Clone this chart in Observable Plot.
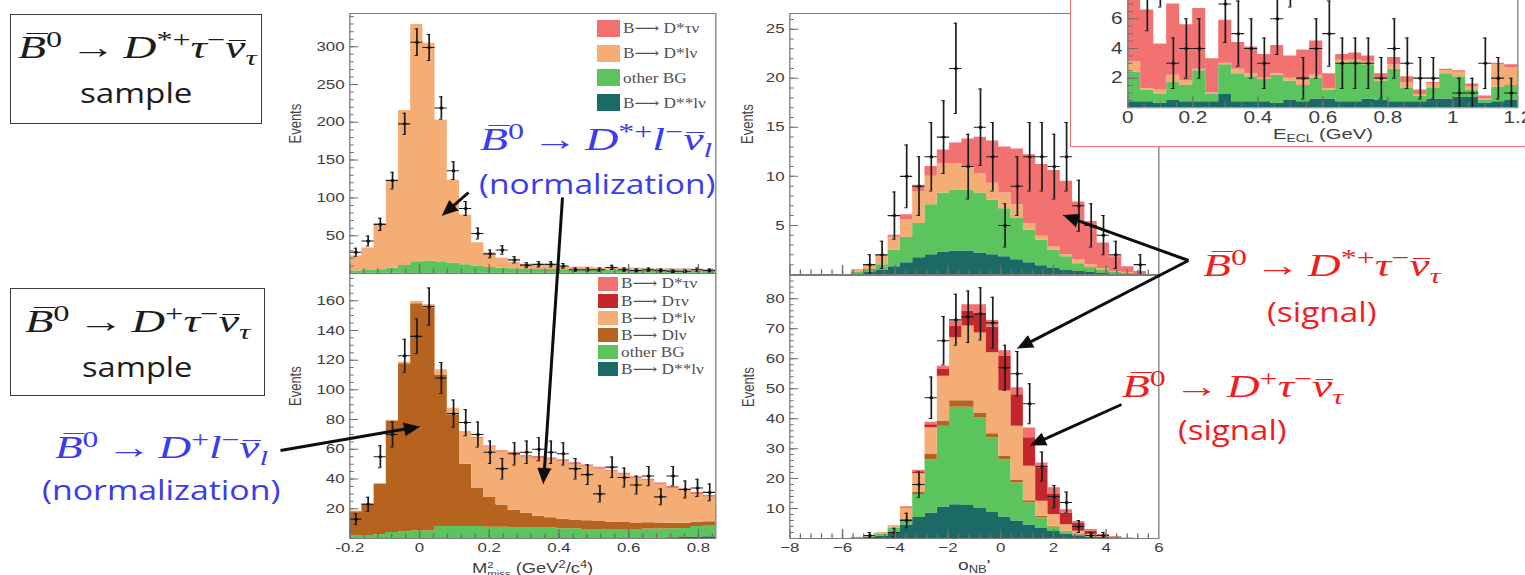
<!DOCTYPE html>
<html>
<head>
<meta charset="utf-8">
<title>B → D(*) τ ν : fit projections</title>
<script src="https://cdn.jsdelivr.net/npm/d3@7"></script>
<script src="https://cdn.jsdelivr.net/npm/@observablehq/plot@0.6"></script>
<style>
  html, body { margin: 0; padding: 0; background: #fff; }
  #stage { position: relative; width: 1525px; height: 575px; overflow: hidden; background: #fff; }
  .note { position: absolute; white-space: nowrap; line-height: 1; transform-origin: 0 0; }
  .math { font-family: "Liberation Serif", "DejaVu Serif", serif; font-style: italic; }
  .sans { font-family: "Open Sans", "Lato", sans-serif; }
  .root { font-family: "Liberation Sans", Arial, sans-serif; }
  .serif { font-family: "Liberation Serif", "DejaVu Serif", serif; }
  .up { font-style: normal; }
  .obB, .obN { position: relative; display: inline-block; }
  .obB::before, .obN::before { content: ""; position: absolute; border-top: 0.055em solid currentColor; }
  .obB::before { left: 0.2em; right: -0.04em; top: 0.07em; }
  .obN::before { left: 0.08em; right: -0.02em; top: 0.27em; }
  .sup { position: relative; top: -0.48em; font-size: 0.7em; }
  .sub { position: relative; top: 0.3em; font-size: 0.68em; }
  .ss { display: inline-block; font-size: 0.62em; line-height: 1; vertical-align: -0.45em; }
  .ss span { display: block; }
  .bl { display: inline-block; width: 0; height: 0; vertical-align: baseline; }
  .box { position: absolute; border: 1.5px solid #3c3c3c; box-sizing: border-box; }
  .sw { position: absolute; }
  .layer { position: absolute; transform-origin: 0 0; }
</style>
</head>
<body>
<div id="stage"></div>
<script>
// ================= DATA =================
// binning (30 bins each)
const mBinLo = -0.2, mBinW = 0.035;     // M²miss  : -0.2 … 0.85
const oBinLo = -8,   oBinW = 14 / 30;   // o_NB'   : -8 … 6
const eBinLo = 0,    eBinW = 0.04;      // E_ECL   : 0 … 1.2

// component colours
const colDstTau = "#f27171", colDtau = "#c3272c", colDstLnu = "#f4ad74",
      colDlnu = "#b5631f",   colOther = "#5cc45c", colDss = "#1c6a66";

// legends
const legendTopLabels = ["B⟶ D*τν", "B⟶ D*lν", "other BG", "B⟶ D**lν"];
const legendTopColors = [colDstTau, colDstLnu, colOther, colDss];
const legendBotLabels = ["B⟶ D*τν", "B⟶ Dτν", "B⟶ D*lν", "B⟶ Dlν", "other BG", "B⟶ D**lν"];
const legendBotColors = [colDstTau, colDtau, colDstLnu, colDlnu, colOther, colDss];

// ---- top-left: M²miss, D*τν sample ----
const tlDss    = [0.2,0.3,0.3,0.4,0.5,0.6,0.6,0.6,0.5,0.5, 0.4,0.4,0.4,0.3,0.3,0.3,0.3,0.3,0.3,0.3, 0.3,0.3,0.3,0.3,0.3,0.3,0.3,0.3,0.3,0.3];
const tlOther  = [3,3.5,4.5,6.5,10,15,16,15,13,11, 9,7.5,6.5,6,5.5,5,5,4.5,4.5,4.5, 4.5,4,4,4,3.5,3.5,3.5,3,3,3];
const tlDstLnu = [20,30,61,117,205,314,288,187,110,66, 31,19,13,8,6,5,5,4,3,3, 2,2,2,2,2,2,1.5,2,2,1.5];
const tlDstTau = [0,0,0,0,0,0,0,0,0,0, 0.2,0.3,0.4,0.5,0.5,0.6,0.6,0.6,0.6,0.6, 0.5,0.5,0.5,0.5,0.5,0.5,0.5,0.5,0.4,0.4];
const tlData   = [28,43,65,123,198,306,299,219,136,86, 53,26,31,18,11,12,12,10,5,5, 5,8,5,4,5,4,3,3,5,4];
const tlErr    = [5.3,6.6,8.1,11.1,14.1,17.5,17.3,14.8,11.7,9.3, 7.3,5.1,5.6,4.2,3.3,3.5,3.5,3.2,2.2,2.2, 2.2,2.8,2.2,2,2.2,2,1.7,1.7,2.2,2];

// ---- bottom-left: M²miss, Dτν sample ----
const blDss    = [0,0,0,0,0,0,0,0,0,0, 0,0,0,0,0,0,0,0,0,0, 0,0,0,0,0.3,0.4,0.5,0.7,1,1.2];
const blOther  = [2,2,2.5,4,4.5,5,5,8,8,8, 8,7.5,7.5,7,7,7,7,6.5,6.5,6, 6,6,6,6,6,6,6,6,7,7.5];
const blDlnu   = [16,21,34,75,113,153,150,102,75,42, 26,20,15,12,10,8,7,6.5,6,6, 5.5,5,4.8,4.5,4.3,4,3.8,3.6,3,2.5];
const blDstLnu = [0.5,0.5,0.5,0.5,1,1.5,2.5,3.5,4.7,21.4, 33.5,34,35.8,38.1,38,39.2,39.3,39,37.5,36.5, 35.5,34,32.2,30.1,28.4,26.1,23.7,22.2,19,16.8];
const blDtau   = [0,0,0,0,0,0,0,0,0,0.2, 0.3,0.3,0.3,0.3,0.3,0.3,0.3,0.3,0.3,0.3, 0.3,0.3,0.3,0.3,0.3,0.3,0.3,0.3,0.3,0.3];
const blDstTau = [0,0,0,0,0,0,0,0,0,0.2, 0.4,0.5,0.5,0.6,0.6,0.6,0.6,0.6,0.6,0.6, 0.6,0.6,0.6,0.6,0.6,0.6,0.6,0.6,0.6,0.6];
const blData   = [13,23,55,70,123,136,156,108,84,78, 70,58,47,57,58,60,58,57,47,43, 30,48,41,36,42,28,42,33,34,31];
const blErr    = [3.6,4.8,7.4,8.4,11.1,11.7,12.5,10.4,9.2,8.8, 8.4,7.6,6.9,7.5,7.6,7.7,7.6,7.5,6.9,6.6, 5.5,6.9,6.4,6,6.5,5.3,6.5,5.7,5.8,5.6];

// ---- top-right: o_NB', D*τν sample ----
const trDss    = [0,0,0,0,0,0,0.2,0.4,0.8,1.2, 1.7,2.0,2.3,2.4,2.4,2.2,2.0,1.8,1.5,1.2, 0.9,0.6,0.4,0.3,0.2,0.1,0,0,0,0];
const trOther  = [0,0,0,0,0,0.2,0.3,0.6,1.7,2.6, 3.5,5.1,6.0,6.2,6.2,6.1,5.6,4.9,4.2,3.3, 2.6,1.9,1.4,0.8,0.5,0.3,0.2,0.1,0,0];
const trDstLnu = [0,0,0,0,0,0.3,0.5,1.0,1.3,1.8, 3.2,2.9,3.0,2.7,2.4,2.0,1.7,1.6,1.4,0.7, 0.4,0.3,0.2,0.4,0.3,0.2,0.1,0.1,0,0];
const trDstTau = [0,0,0,0,0,0,0,0,0.2,0.5, 0.7,1.0,1.4,2.1,2.8,3.7,4.3,4.7,5.7,7.0, 7.3,7.8,7.5,5.9,4.4,2.6,1.5,0.6,0.3,0];
const trData   = [null,null,null,null,null,null,1,2,6,10, 9,12,14,21,11,15,12,5,9,12, 12,11,12,7,5,4,2,null,1,null];
const trErr    = [null,null,null,null,null,null,1,1.4,2.4,3.2, 3,3.5,3.7,4.6,3.3,3.9,3.5,2.2,3,3.5, 3.5,3.3,3.5,2.6,2.2,2,1.4,null,1,null];

// ---- bottom-right: o_NB', Dτν sample ----
const brDss    = [0,0,0,0,0,0.2,0.4,0.8,1.8,4.5, 7,8.5,10.5,11.3,11,10,8.7,7.2,5.8,4.5, 3.3,2.3,1.5,0.9,0.5,0.3,0.1,0,0,0];
const brOther  = [0,0,0,0,0,0.1,0.2,0.7,1.7,1.5, 7.7,17.8,27,32.5,32.8,30.3,24.9,19.1,12.7,7.4, 3.6,1.5,0.7,0.3,0.1,0.1,0,0,0,0];
const brDlnu   = [0,0,0,0,0,0,0,0,0,0.3, 0.8,1.7,1.7,2.2,2.2,1.6,1.4,1.2,1.0,0.7, 0.5,0.3,0.2,0.1,0,0,0,0,0,0];
const brDstLnu = [0,0,0,0,0,0.1,0.1,0.5,0.5,3.9, 6.1,9,15,21,24.9,26.7,27,21.7,18,11.5, 5,3.9,2.2,1.1,0.7,0.2,0.1,0,0,0];
const brDtau   = [0,0,0,0,0,0,0,0,0.1,0.2, 0.7,1.0,2.2,3.9,5.0,6.2,8.5,11.7,10.5,9.5, 11.1,6.7,3.9,2.6,1.1,0.4,0.2,0,0,0];
const brDstTau = [0,0,0,0,0,0,0,0,0.1,0.2, 0.5,0.8,1.1,1.6,2.1,3.2,2.3,1.8,2.3,3.3, 1.7,2.2,1.1,0.7,0.6,0.3,0.3,0.2,0,0];
const brData   = [null,null,null,null,null,null,1,null,2,6, 18,47,66,73,74,75,72,57,55,45, 24,14,12,4,1,1,null,null,null,null];
const brErr    = [null,null,null,null,null,null,1,null,1.4,2.4, 4.2,6.9,8.1,8.5,8.6,8.7,8.5,7.5,7.4,6.7, 4.9,3.7,3.5,2,1,1,null,null,null,null];

// ---- inset: E_ECL ----
const ecDss    = [0.4,0.4,0.3,0.5,0.4,0.4,0.4,0.9,0.4,0.4, 0.4,0.3,0.5,0.4,0.6,0.6,0.4,0.4,0.6,0.5, 0.4,0.4,0.4,0.6,0.6,0.7,0.7,0.3,0.4,0.5];
const ecOther  = [2.0,0.8,0.6,1.2,1.1,2.1,0.5,2.0,1.9,1.7, 1.5,1.9,1.3,1.1,1.4,0.6,2.6,2.7,2.3,1.3, 2.2,0.9,0.4,0.7,1.7,1.4,0.5,0.2,1.0,1.0];
const ecDstLnu = [0.7,0.1,0.3,0.5,0.3,0.1,0.1,0.1,0.3,0.2, 0.1,0.1,0.2,0.3,0.2,0.1,0.2,0.1,0.2,0.2, 0.3,0.4,0.1,0.3,0.2,0.3,0.2,0.1,1.5,1.2];
const ecDstTau = [5.4,5.3,3.1,4.8,3.8,4.1,2.3,2.9,1.8,1.8, 1.6,1.9,1.5,2.1,2.3,1.0,0.4,0.5,0.4,0.3, 0.5,0.4,0.3,0.1,0.1,0.1,0.2,0.2,0.1,0.2];
const ecData   = [12,8,10,3,4,4,null,7,5,4, 3,6,10,2,4,5,3,3,3,2, 4,3,2,2,null,1,1,3,2,1];
const ecErr    = [3.5,2.8,3.2,1.7,2,2,null,2.6,2.2,2, 1.7,2.4,3.2,1.4,2,2.2,1.7,1.7,1.7,1.4, 2,1.7,1.4,1.4,null,1,1,1.7,1.4,1];

// axis ticks and labels
const tlYTicks = [50,100,150,200,250,300];
const blYTicks = [20,40,60,80,100,120,140,160];
const trYTicks = [5,10,15,20,25];
const brYTicks = [10,20,30,40,50,60,70,80];
const ecYTicks = [2,4,6];
const mXTicks  = [-0.2,0,0.2,0.4,0.6,0.8];  const mXLabels = ["-0.2","0","0.2","0.4","0.6","0.8"];
const oXTicks  = [-8,-6,-4,-2,0,2,4,6];      const oXLabels = ["\u22128","\u22126","\u22124","\u22122","0","2","4","6"];
const eXTicks  = [0,0.2,0.4,0.6,0.8,1,1.2];  const eXLabels = ["0","0.2","0.4","0.6","0.8","1","1.2"];

// ================= DRAWING =================
const S = 1.3;   // the slide stretched the ROOT figures horizontally
const stage = document.getElementById("stage");

function histPanel(o) {
  const n = o.comps[0].values.length;
  const mL = 64, mR = 4, mT = 4, mB = 36;
  const [L, T, R, Bt] = o.box;
  const fw = (R - L) / S, fh = Bt - T;
  const W = mL + fw + mR, H = mT + fh + mB;
  const edge = i => o.binLo + o.binW * i;
  const marks = [];
  let base = new Array(n).fill(0);
  for (const c of o.comps) {
    const lo = base;
    const hi = base.map((b, j) => b + c.values[j]);
    const rows = d3.range(n + 1).map(i => {
      const j = Math.min(i, n - 1);
      return {x: edge(i), y1: lo[j], y2: hi[j]};
    });
    marks.push(Plot.areaY(rows, {x: "x", y1: "y1", y2: "y2", curve: "step-after", fill: c.color, clip: true}));
    base = hi;
  }
  const pts = [];
  o.data.forEach((v, i) => { if (v != null) pts.push({c: edge(i) + o.binW / 2, v, e: o.err[i]}); });
  const ink = {stroke: "#1c1c1c", clip: true};
  const cap = o.binW * 0.14;
  marks.push(
    Plot.ruleX(pts, {x: "c", y1: d => Math.max(0, d.v - d.e), y2: d => d.v + d.e, strokeWidth: 1.3, ...ink}),
    Plot.ruleY(pts, {y: "v", x1: d => d.c - o.binW / 2, x2: d => d.c + o.binW / 2, strokeWidth: 1.1, ...ink}),
    Plot.ruleY(pts, {y: d => d.v + d.e, x1: d => d.c - cap, x2: d => d.c + cap, strokeWidth: 1, ...ink}),
    Plot.ruleY(pts.filter(d => d.v - d.e > 0.05), {y: d => d.v - d.e, x1: d => d.c - cap, x2: d => d.c + cap, strokeWidth: 1, ...ink}),
    Plot.dot(pts, {x: "c", y: "v", r: 1.5, fill: "#111", clip: true})
  );
  const tk = {stroke: "#6e6e6e", strokeWidth: 1, clip: true};
  marks.push(
    Plot.tickY(o.yMajor.concat(o.yExtraMajor || []), {y: d => d, insetRight: fw - o.tick / S, ...tk}),
    Plot.tickY(o.yMinor, {y: d => d, insetRight: fw - o.tick / 2 / S, ...tk}),
    Plot.tickX(o.xMajor, {x: d => d, insetTop: fh - o.tick, ...tk}),
    Plot.tickX(o.xMinor, {x: d => d, insetTop: fh - o.tick / 2, ...tk}),
    Plot.frame({stroke: "#7c7c7c", strokeWidth: 1})
  );
  if (o.yTitle) marks.push(Plot.text([o.yTitle], {text: d => d, frameAnchor: "left", rotate: -90, dx: -o.yTitleDx, fontSize: 13, fill: "#454545"}));
  const svg = Plot.plot({
    width: W, height: H, marginLeft: mL, marginRight: mR, marginTop: mT, marginBottom: mB,
    x: o.xLabels
      ? {domain: o.xDomain, ticks: o.xMajor, tickFormat: d => o.xLabels[o.xMajor.indexOf(d)], tickSize: 0, tickPadding: 4, label: null}
      : {domain: o.xDomain, axis: null},
    y: {domain: o.yDomain, ticks: o.yMajor, tickSize: 0, tickPadding: 4, label: null},
    style: {background: "transparent", overflow: "visible", fontFamily: '"Liberation Sans", Arial, sans-serif', fontSize: o.fs + "px", color: "#3d3d3d"},
    marks
  });
  const div = document.createElement("div");
  div.className = "layer";
  div.style.left = (L - mL * S) + "px";
  div.style.top = (T - mT) + "px";
  div.style.width = W + "px";
  div.style.height = H + "px";
  div.style.transform = `scaleX(${S})`;
  div.appendChild(svg);
  stage.appendChild(div);
}

const comps = (arrs, cols) => arrs.map((values, k) => ({values, color: cols[k]}));

// top-left
histPanel({box: [349, 13, 715, 273], xDomain: [-0.2, 0.85], yDomain: [0, 344], binLo: mBinLo, binW: mBinW,
  comps: comps([tlDss, tlOther, tlDstLnu, tlDstTau], [colDss, colOther, colDstLnu, colDstTau]),
  data: tlData, err: tlErr, yMajor: tlYTicks, yMinor: d3.range(10, 344, 10),
  xMajor: mXTicks, xMinor: d3.range(27).map(i => -0.2 + 0.04 * i), tick: 9, fs: 13, yTitle: "Events", yTitleDx: 41.5});
// bottom-left
histPanel({box: [349, 273, 715, 538], xDomain: [-0.2, 0.85], yDomain: [0, 178.3], binLo: mBinLo, binW: mBinW,
  comps: comps([blDss, blOther, blDlnu, blDstLnu, blDtau, blDstTau], [colDss, colOther, colDlnu, colDstLnu, colDtau, colDstTau]),
  data: blData, err: blErr, yMajor: blYTicks, yMinor: d3.range(5, 178, 5),
  xMajor: mXTicks, xMinor: d3.range(27).map(i => -0.2 + 0.04 * i), xLabels: mXLabels, tick: 9, fs: 13, yTitle: "Events", yTitleDx: 41.5});
// top-right
histPanel({box: [789, 13, 1158, 274], xDomain: [-8, 6], yDomain: [0, 26.6], binLo: oBinLo, binW: oBinW,
  comps: comps([trDss, trOther, trDstLnu, trDstTau], [colDss, colOther, colDstLnu, colDstTau]),
  data: trData, err: trErr, yMajor: trYTicks, yMinor: d3.range(1, 27, 1),
  xMajor: oXTicks, xMinor: d3.range(36).map(i => -8 + 0.4 * i), tick: 9, fs: 13, yTitle: "Events", yTitleDx: 32.5});
// bottom-right
histPanel({box: [789, 275, 1158, 538], xDomain: [-8, 6], yDomain: [0, 87.8], binLo: oBinLo, binW: oBinW,
  comps: comps([brDss, brOther, brDlnu, brDstLnu, brDtau, brDstTau], [colDss, colOther, colDlnu, colDstLnu, colDtau, colDstTau]),
  data: brData, err: brErr, yMajor: brYTicks, yMinor: d3.range(2, 88, 2),
  xMajor: oXTicks, xMinor: d3.range(36).map(i => -8 + 0.4 * i), xLabels: oXLabels, tick: 9, fs: 13, yTitle: "Events", yTitleDx: 31.5});

// inset (E_ECL) with its red frame
const insetBox = document.createElement("div");
insetBox.style.cssText = "position:absolute;left:1070px;top:-6px;width:480px;height:153px;border:1.5px solid #f46c6c;background:#fff;box-sizing:border-box;";
stage.appendChild(insetBox);
histPanel({box: [1127, -40.9, 1517, 107.4], xDomain: [0, 1.2], yDomain: [0, 10], binLo: eBinLo, binW: eBinW,
  comps: comps([ecDss, ecOther, ecDstLnu, ecDstTau], [colDss, colOther, colDstLnu, colDstTau]),
  data: ecData, err: ecErr, yMajor: ecYTicks, yExtraMajor: [8], yMinor: d3.range(0.5, 10, 0.5),
  xMajor: eXTicks, xMinor: d3.range(25).map(i => 0.05 * i), xLabels: eXLabels, tick: 11, fs: 16, yTitle: null});

// ---------- legends ----------
function legend(labels, colors, o) {
  labels.forEach((lab, k) => {
    const cy = o.y0 + o.dy * k;
    const sw = document.createElement("div");
    sw.className = "sw";
    sw.style.cssText = `left:${o.x}px;top:${cy - o.sh / 2}px;width:${o.sw}px;height:${o.sh}px;background:${colors[k]};`;
    stage.appendChild(sw);
    notes.push({html: lab, cls: "serif", size: o.size, color: "#505050", x0: o.x + o.sw + 3, sx: 1.15, base: cy + 0.33 * o.size});
  });
}

// ---------- text annotations ----------
const SP = '\u2006';
const B0 = '<span class="obB">B</span><span class="sup up">0</span><span class="up">' + SP + '→' + SP + '</span>';
const NUB = '<span class="obN">ν</span>';
const fDstTau = B0 + 'D<span class="sup up">*+</span>τ<span class="sup up">−</span>' + NUB + '<span class="sub">τ</span>';
const fDTau   = B0 + 'D<span class="sup up">+</span>τ<span class="sup up">−</span>' + NUB + '<span class="sub">τ</span>';
const fDstL   = B0 + 'D<span class="sup up">*+</span>l<span class="sup up">−</span>' + NUB + '<span class="sub">l</span>';
const fDL     = B0 + 'D<span class="sup up">+</span>l<span class="sup up">−</span>' + NUB + '<span class="sub">l</span>';
const BLUE = "#3b3bf0", RED = "#f21e1e", BLACK = "#1c1c1c";

const notes = [
  {html: fDstTau, cls: "math", size: 32, color: BLACK, x0: 18, x1: 256, base: 58},
  {html: "sample", cls: "sans", size: 27, color: BLACK, x0: 80, x1: 192, base: 103},
  {html: fDTau, cls: "math", size: 32, color: BLACK, x0: 25, x1: 250, base: 332},
  {html: "sample", cls: "sans", size: 27, color: BLACK, x0: 82, x1: 192, base: 377},
  {html: fDstL, cls: "math", size: 32, color: BLUE, x0: 480, x1: 712, base: 150},
  {html: "(normalization)", cls: "sans", size: 27, color: BLUE, x0: 479, x1: 715, base: 194},
  {html: fDL, cls: "math", size: 32, color: BLUE, x0: 55, x1: 268, base: 458},
  {html: "(normalization)", cls: "sans", size: 27, color: BLUE, x0: 42, x1: 280, base: 500},
  {html: fDstTau, cls: "math", size: 32, color: RED, x0: 1203, x1: 1440, base: 276},
  {html: "(signal)", cls: "sans", size: 27, color: RED, x0: 1267, x1: 1377, base: 322},
  {html: fDTau, cls: "math", size: 32, color: RED, x0: 1122, x1: 1343, base: 397},
  {html: "(signal)", cls: "sans", size: 27, color: RED, x0: 1178, x1: 1287, base: 440},
  // axis titles of the ROOT figures (cut by the slide's bottom edge, as in the source)
  {html: 'M<span class="ss"><span>2</span><span>miss</span></span> (GeV<span class="sup">2</span>/c<span class="sup">4</span>)', cls: "root", size: 15, color: "#404040", x0: 472, x1: 593, base: 573},
  {html: 'o<span class="sub">NB</span>\'', cls: "root", size: 15, color: "#404040", x0: 958, x1: 990, base: 570},
  {html: 'E<span class="sub">ECL</span> (GeV)', cls: "root", size: 15, color: "#404040", x0: 1273, x1: 1373, base: 139}
];

legend(legendTopLabels, legendTopColors, {x: 597, y0: 28.3, dy: 24.8, sw: 23, sh: 17, size: 15});
legend(legendBotLabels, legendBotColors, {x: 598, y0: 283.5, dy: 17.1, sw: 20, sh: 14, size: 15});

// boxes around the sample labels
[[10, 14, 262, 124], [10, 288, 265, 396]].forEach(([x0, y0, x1, y1]) => {
  const b = document.createElement("div");
  b.className = "box";
  b.style.cssText += `left:${x0}px;top:${y0}px;width:${x1 - x0}px;height:${y1 - y0}px;`;
  stage.appendChild(b);
});

const noteEls = notes.map(n => {
  const d = document.createElement("div");
  d.className = "note " + n.cls;
  d.style.fontSize = n.size + "px";
  d.style.color = n.color;
  d.innerHTML = n.html + '<span class="bl"></span>';
  stage.appendChild(d);
  return d;
});
function layoutNotes() {
  notes.forEach((n, k) => {
    const d = noteEls[k];
    d.style.transform = "none";
    const w = d.offsetWidth;
    const bl = d.querySelector(".bl").offsetTop;
    const sx = n.x1 != null ? (n.x1 - n.x0) / w : (n.sx || 1);
    d.style.left = n.x0 + "px";
    d.style.top = (n.base - bl) + "px";
    d.style.transform = `scaleX(${sx})`;
  });
}
layoutNotes();
if (document.fonts && document.fonts.ready) document.fonts.ready.then(layoutNotes);

// ---------- arrows (page pixel coordinates) ----------
const arrows = [
  {x1: 468, y1: 192, x2: 442, y2: 215},
  {x1: 562, y1: 197, x2: 543, y2: 483},
  {x1: 280, y1: 450, x2: 419, y2: 426},
  {x1: 1188, y1: 260, x2: 1063, y2: 215},
  {x1: 1188, y1: 260, x2: 1017, y2: 348},
  {x1: 1121, y1: 404, x2: 1030, y2: 445}
];
const headL = 15, headW = 6.5;
const shafts = arrows.map(a => {
  const L = Math.hypot(a.x2 - a.x1, a.y2 - a.y1), ux = (a.x2 - a.x1) / L, uy = (a.y2 - a.y1) / L;
  return {x1: a.x1, y1: a.y1, x2: a.x2 - ux * (headL - 2), y2: a.y2 - uy * (headL - 2)};
});
const heads = arrows.flatMap((a, k) => {
  const L = Math.hypot(a.x2 - a.x1, a.y2 - a.y1), ux = (a.x2 - a.x1) / L, uy = (a.y2 - a.y1) / L;
  const bx = a.x2 - ux * headL, by = a.y2 - uy * headL;
  return [{k, x: a.x2, y: a.y2}, {k, x: bx - uy * headW, y: by + ux * headW}, {k, x: bx + uy * headW, y: by - ux * headW}];
});
const overlay = Plot.plot({
  width: 1525, height: 575, margin: 0,
  x: {domain: [0, 1525], range: [0, 1525], axis: null},
  y: {domain: [0, 575], range: [0, 575], axis: null},
  style: {background: "transparent", overflow: "visible"},
  marks: [
    Plot.link(shafts, {x1: "x1", y1: "y1", x2: "x2", y2: "y2", stroke: "#0d0d0d", strokeWidth: 3}),
    Plot.line(heads, {x: "x", y: "y", z: "k", fill: "#0d0d0d", stroke: "#0d0d0d", strokeWidth: 1})
  ]
});
const ov = document.createElement("div");
ov.className = "layer";
ov.style.left = "0px"; ov.style.top = "0px"; ov.style.pointerEvents = "none";
ov.appendChild(overlay);
stage.appendChild(ov);
</script>
</body>
</html>
